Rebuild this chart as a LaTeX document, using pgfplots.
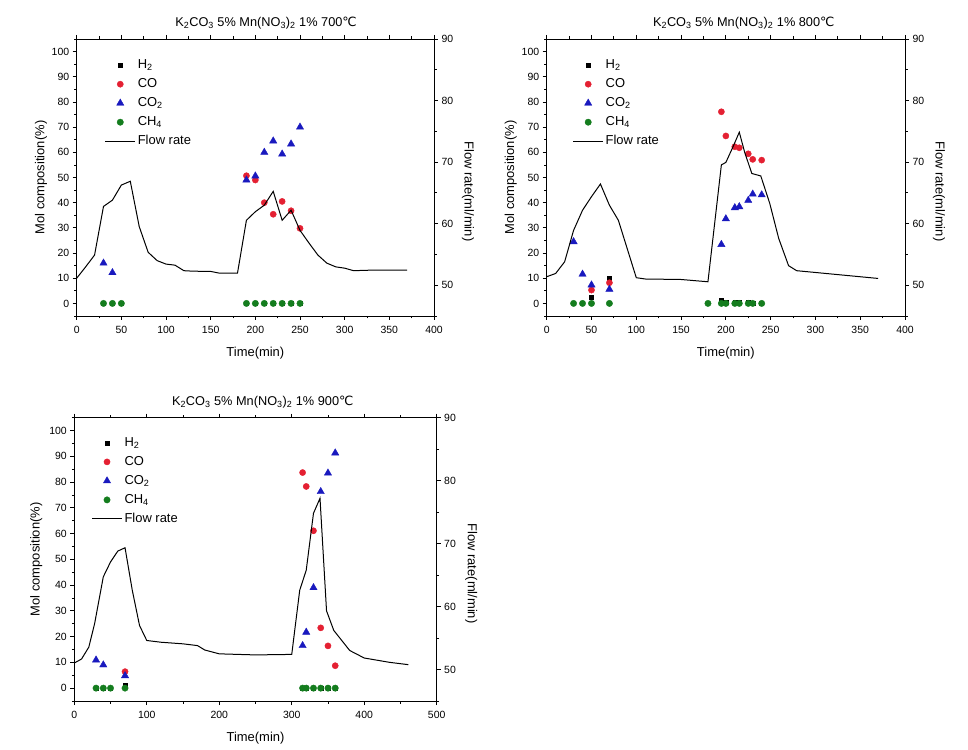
\documentclass[border=0pt]{standalone}
\usepackage{pgfplots}
\pgfplotsset{compat=1.18}
\usepackage{fontspec}
\setmainfont{Liberation Sans}
\newfontfamily\dejavu{DejaVu Sans}
\definecolor{cCO}{RGB}{228,32,50}
\definecolor{cCOt}{RGB}{25,25,190}
\definecolor{cCH}{RGB}{20,125,30}
\pgfplotsset{
  mlegend/.style={legend image code/.code={\draw[##1] plot coordinates {(15bp,0bp)};}},
  llegend/.style={legend image code/.code={\draw[##1] (0bp,0bp) -- (30bp,0bp);}},
  common/.style={scale only axis, xmin=0, tick align=outside,
    major tick length=4bp, minor tick length=2.5bp,
    every tick/.style={black, line width=0.8bp},
    axis line style={line width=0.9bp},
    ticklabel style={font=\fontsize{10.5}{12}\selectfont},
    /pgf/number format/assume math mode=true,
    label style={font=\fontsize{13}{15}\selectfont}},
  leftax/.style={common, ymin=-5, ymax=105, ytick={0,10,...,100}, minor ytick={-5,5,...,105},
    ytick pos=left, yticklabel pos=left, xtick pos=both, xticklabel pos=left,
    minor x tick num=1,
    xticklabel style={yshift=-2.5bp},
    ylabel={Mol composition(\%)}, xlabel={Time(min)},
    xlabel style={at={(axis description cs:0.5,0)}, anchor=center, yshift=-37bp},
    legend style={draw=none, fill=none, anchor=north west, inner sep=0pt,
      font=\fontsize{13}{15}\selectfont, row sep=3bp,
      nodes={text height=9.5bp, text depth=2.5bp, inner sep=2bp}, cells={anchor=west}},
    title style={font=\fontsize{12.8}{15}\selectfont, anchor=base, yshift=6.5bp}},
  rightax/.style={common, ymin=45, ymax=90, ytick={50,60,...,90}, minor ytick={45,55,...,85},
    axis y line*=right, hide x axis,
    ylabel={Flow rate(ml/min)},
    ylabel style={at={(axis description cs:1.095,0.45)}, anchor=center, rotate=180}},
  sH/.style={only marks, mark=square*, mark size=2.0bp, black, mlegend},
  sCO/.style={only marks, mark=*, mark size=3.1bp, cCO, mlegend},
  sCO2/.style={only marks, mark=triangle*, mark size=4.2bp, cCOt, mlegend},
  sCH/.style={only marks, mark=*, mark size=3.2bp, cCH, mlegend},
  sFlow/.style={black, line width=1bp, no markers}
}
\begin{document}
\begin{tikzpicture}
\path[use as bounding box] (0,0) rectangle (968bp,750bp);
% ---------- Panel 1: 700C ----------
\begin{axis}[leftax, at={(76.7bp,434bp)}, anchor=south west, width=357.3bp, height=277bp,
  xmax=400, xtick={0,50,...,400},
  ylabel style={at={(axis description cs:-0.1,0.5)}, anchor=center},
  title style={at={(axis description cs:0.53,1)}},
  title={K\textsubscript{2}CO\textsubscript{3} 5\% Mn(NO\textsubscript{3})\textsubscript{2} 1\% 700{\dejavu ℃}},
  legend style={at={(axis description cs:0.078,0.935)}}]
\addplot[sH] coordinates {(30,0)(40,0)(50,0)(190,0)(200,0)(210,0)(220,0)(230,0)(240,0)(250,0)};
\addlegendentry{H\textsubscript{2}}
\addplot[sCO] coordinates {(190,50.7)(200,49)(210,40)(220,35.4)(230,40.5)(240,36.8)(250,29.8)};
\addlegendentry{CO}
\addplot[sCO2] coordinates {(30,16)(40,12.2)(190,49)(200,50.6)(210,60)(220,64.5)(230,59.3)(240,63.3)(250,70)};
\addlegendentry{CO\textsubscript{2}}
\addplot[sCH] coordinates {(30,0)(40,0)(50,0)(190,0)(200,0)(210,0)(220,0)(230,0)(240,0)(250,0)};
\addlegendentry{CH\textsubscript{4}}
\addlegendimage{llegend, black, line width=1bp}
\addlegendentry{Flow rate}
\end{axis}
\begin{axis}[rightax, at={(76.7bp,434bp)}, anchor=south west, width=357.3bp, height=277bp, xmax=400]
\addplot[sFlow] coordinates {(0,51.14)(10,52.98)(20,54.90)(30,62.80)(40,63.82)(50,66.27)(60,66.89)(70,59.52)(80,55.35)(90,54.0)(100,53.43)(110,53.26)(120,52.36)(130,52.28)(150,52.24)(160,51.95)(180,51.95)(190,60.55)(200,61.94)(210,63.0)(220,65.25)(230,60.55)(240,62.18)(250,58.91)(260,56.86)(270,54.90)(280,53.59)(290,52.98)(300,52.77)(310,52.36)(330,52.45)(370,52.45)};
\end{axis}
% ---------- Panel 2: 800C ----------
\begin{axis}[leftax, at={(546.7bp,434bp)}, anchor=south west, width=358.3bp, height=277bp,
  xmax=400, xtick={0,50,...,400},
  ylabel style={at={(axis description cs:-0.1,0.5)}, anchor=center},
  title style={at={(axis description cs:0.55,1)}},
  title={K\textsubscript{2}CO\textsubscript{3} 5\% Mn(NO\textsubscript{3})\textsubscript{2} 1\% 800{\dejavu ℃}},
  legend style={at={(axis description cs:0.072,0.935)}}]
\addplot[sH] coordinates {(50,2.6)(70,10.2)(195,1.3)(200,0.5)(210,0.3)(215,0.3)(225,0.3)(230,0.2)(240,0.2)};
\addlegendentry{H\textsubscript{2}}
\addplot[sCO] coordinates {(50,5.3)(70,8.2)(195,76.1)(200,66.5)(210,62.2)(215,61.8)(225,59.4)(230,57.2)(240,56.9)};
\addlegendentry{CO}
\addplot[sCO2] coordinates {(30,24.5)(40,11.6)(50,7.3)(70,5.6)(195,23.4)(200,33.6)(210,38)(215,38.4)(225,40.9)(230,43.4)(240,43.1)};
\addlegendentry{CO\textsubscript{2}}
\addplot[sCH] coordinates {(30,0)(40,0)(50,0)(70,0)(180,0)(195,0)(200,0)(210,0)(215,0)(225,0)(230,0)(240,0)};
\addlegendentry{CH\textsubscript{4}}
\addlegendimage{llegend, black, line width=1bp}
\addlegendentry{Flow rate}
\end{axis}
\begin{axis}[rightax, at={(546.7bp,434bp)}, anchor=south west, width=358.3bp, height=277bp, xmax=400]
\addplot[sFlow] coordinates {(0,51.38)(10,51.91)(20,53.80)(30,58.91)(40,62.18)(50,64.39)(60,66.44)(70,63.0)(80,60.55)(100,51.22)(110,51.01)(150,50.93)(180,50.56)(195,69.55)(200,69.95)(208,72.49)(215,74.86)(221,71.59)(229,68.15)(239,67.75)(249,63.29)(259,57.6)(270,53.18)(279,52.36)(370,51.10)};
\end{axis}
% ---------- Panel 3: 900C ----------
\begin{axis}[leftax, at={(74.3bp,49bp)}, anchor=south west, width=362.4bp, height=283.3bp,
  xmax=500, xtick={0,100,...,500},
  ylabel style={at={(axis description cs:-0.105,0.5)}, anchor=center},
  title style={at={(axis description cs:0.52,1)}},
  title={K\textsubscript{2}CO\textsubscript{3} 5\% Mn(NO\textsubscript{3})\textsubscript{2} 1\% 900{\dejavu ℃}},
  legend style={at={(axis description cs:0.047,0.94)}}]
\addplot[sH] coordinates {(30,0)(40,0)(50,0)(70,1.3)(315,0)(320,0)(330,0)(340,0)(350,0)(360,0)};
\addlegendentry{H\textsubscript{2}}
\addplot[sCO] coordinates {(70,6.4)(315,83.7)(320,78.3)(330,61.1)(340,23.4)(350,16.4)(360,8.7)};
\addlegendentry{CO}
\addplot[sCO2] coordinates {(30,10.9)(40,9)(70,4.8)(315,16.5)(320,21.7)(330,39)(340,76.3)(350,83.5)(360,91.3)};
\addlegendentry{CO\textsubscript{2}}
\addplot[sCH] coordinates {(30,0)(40,0)(50,0)(70,0)(315,0)(320,0)(330,0)(340,0)(350,0)(360,0)};
\addlegendentry{CH\textsubscript{4}}
\addlegendimage{llegend, black, line width=1bp}
\addlegendentry{Flow rate}
\end{axis}
\begin{axis}[rightax, at={(74.3bp,49bp)}, anchor=south west, width=362.4bp, height=283.3bp, xmax=500]
\addplot[sFlow] coordinates {(0,51.03)(10,51.67)(20,53.55)(28,57.27)(40,64.72)(50,67.09)(60,68.81)(70,69.34)(80,62.59)(90,56.99)(100,54.61)(120,54.33)(150,54.08)(170,53.80)(180,53.10)(200,52.49)(250,52.32)(300,52.40)(311,62.59)(320,65.78)(330,74.82)(339,77.20)(348,59.32)(358,56.21)(380,53.02)(400,51.83)(435,51.14)(461,50.77)};
\end{axis}
\end{tikzpicture}
\end{document}
